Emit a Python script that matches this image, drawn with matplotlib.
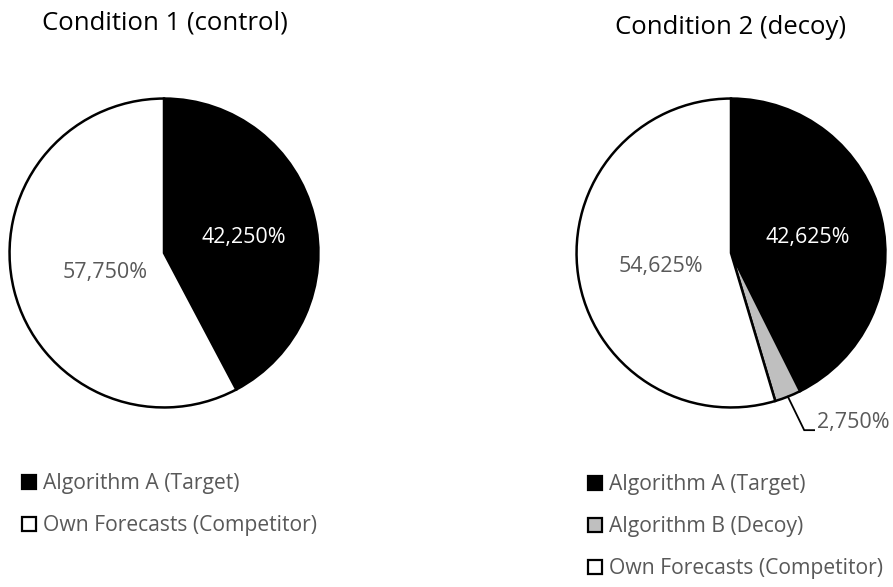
import numpy as np
import matplotlib.pyplot as plt
from matplotlib.patches import Patch

plt.rcParams['font.family'] = ['Open Sans', 'DejaVu Sans']

# shares per condition (percent)
labels_1 = ['Algorithm A (Target)', 'Own Forecasts (Competitor)']
values_1 = [42.250, 57.750]
colors_1 = ['black', 'white']

labels_2 = ['Algorithm A (Target)', 'Algorithm B (Decoy)', 'Own Forecasts (Competitor)']
values_2 = [42.625, 2.750, 54.625]
colors_2 = ['black', '#bfbfbf', 'white']

grey = '#595959'
W, H = 893, 587
pct_size = 15.5


def fmt(v):
    return ('%.3f%%' % v).replace('.', ',')


def pie_axes(cx, cy, r):
    return fig.add_axes([(cx - r) / W, (H - cy - r) / H, 2 * r / W, 2 * r / H])


def draw_pie(ax, values, colors):
    wedges, _ = ax.pie(values, colors=colors, startangle=90, counterclock=False,
                       wedgeprops=dict(edgecolor='black', linewidth=1.8))
    ax.set_xlim(-1.01, 1.01)
    ax.set_ylim(-1.01, 1.01)
    ax.axis('off')
    return wedges


def mid_angle(w):
    return np.deg2rad((w.theta1 + w.theta2) / 2)


def put_labels(ax, wedges, values, colors, spots):
    for w, v, c, s in zip(wedges, values, colors, spots):
        if s is None:
            continue
        rr, da = s
        a = mid_angle(w) + np.deg2rad(da)
        ax.text(rr * np.cos(a), rr * np.sin(a), fmt(v), ha='center', va='center',
                fontsize=pct_size, color='white' if c == 'black' else grey)


fig = plt.figure(figsize=(W / 100, H / 100), dpi=100)

# left pie, label spots as (radius fraction, angle shift in degrees)
ax1 = pie_axes(164, 253, 156)
w1 = draw_pie(ax1, values_1, colors_1)
put_labels(ax1, w1, values_1, colors_1, [(0.53, -2.7), (0.40, 4)])

# right pie
ax2 = pie_axes(731, 253, 156)
w2 = draw_pie(ax2, values_2, colors_2)
put_labels(ax2, w2, values_2, colors_2, [(0.51, -1.7), None, (0.46, 3)])

# leader line for the small decoy slice
a = mid_angle(w2[1])
ax2.plot([np.cos(a), 0.474, 0.538], [np.sin(a), -1.147, -1.147], color='black',
         lw=1.3, clip_on=False, solid_joinstyle='miter')
ax2.text(0.56, -1.10, fmt(values_2[1]), ha='left', va='center',
         fontsize=pct_size, color=grey)

# titles
fig.text(165 / W, 1 - 23 / H, 'Condition 1 (control)', ha='center', va='center',
         fontsize=18.5, color='black')
fig.text(731 / W, 1 - 27 / H, 'Condition 2 (decoy)', ha='center', va='center',
         fontsize=18.5, color='black')


def legend(labels, colors, x, y):
    handles = [Patch(facecolor=c, edgecolor='black', linewidth=1.6) for c in colors]
    fig.legend(handles, labels, loc='upper left', bbox_to_anchor=(x / W, 1 - y / H),
               frameon=False, fontsize=15.2, labelcolor=grey, handlelength=0.65,
               handleheight=0.65, handletextpad=0.35, labelspacing=1.0,
               borderpad=0, borderaxespad=0)


legend(labels_1, colors_1, 22, 473)
legend(labels_2, colors_2, 588, 474)

fig.savefig('out.png', dpi=100)
